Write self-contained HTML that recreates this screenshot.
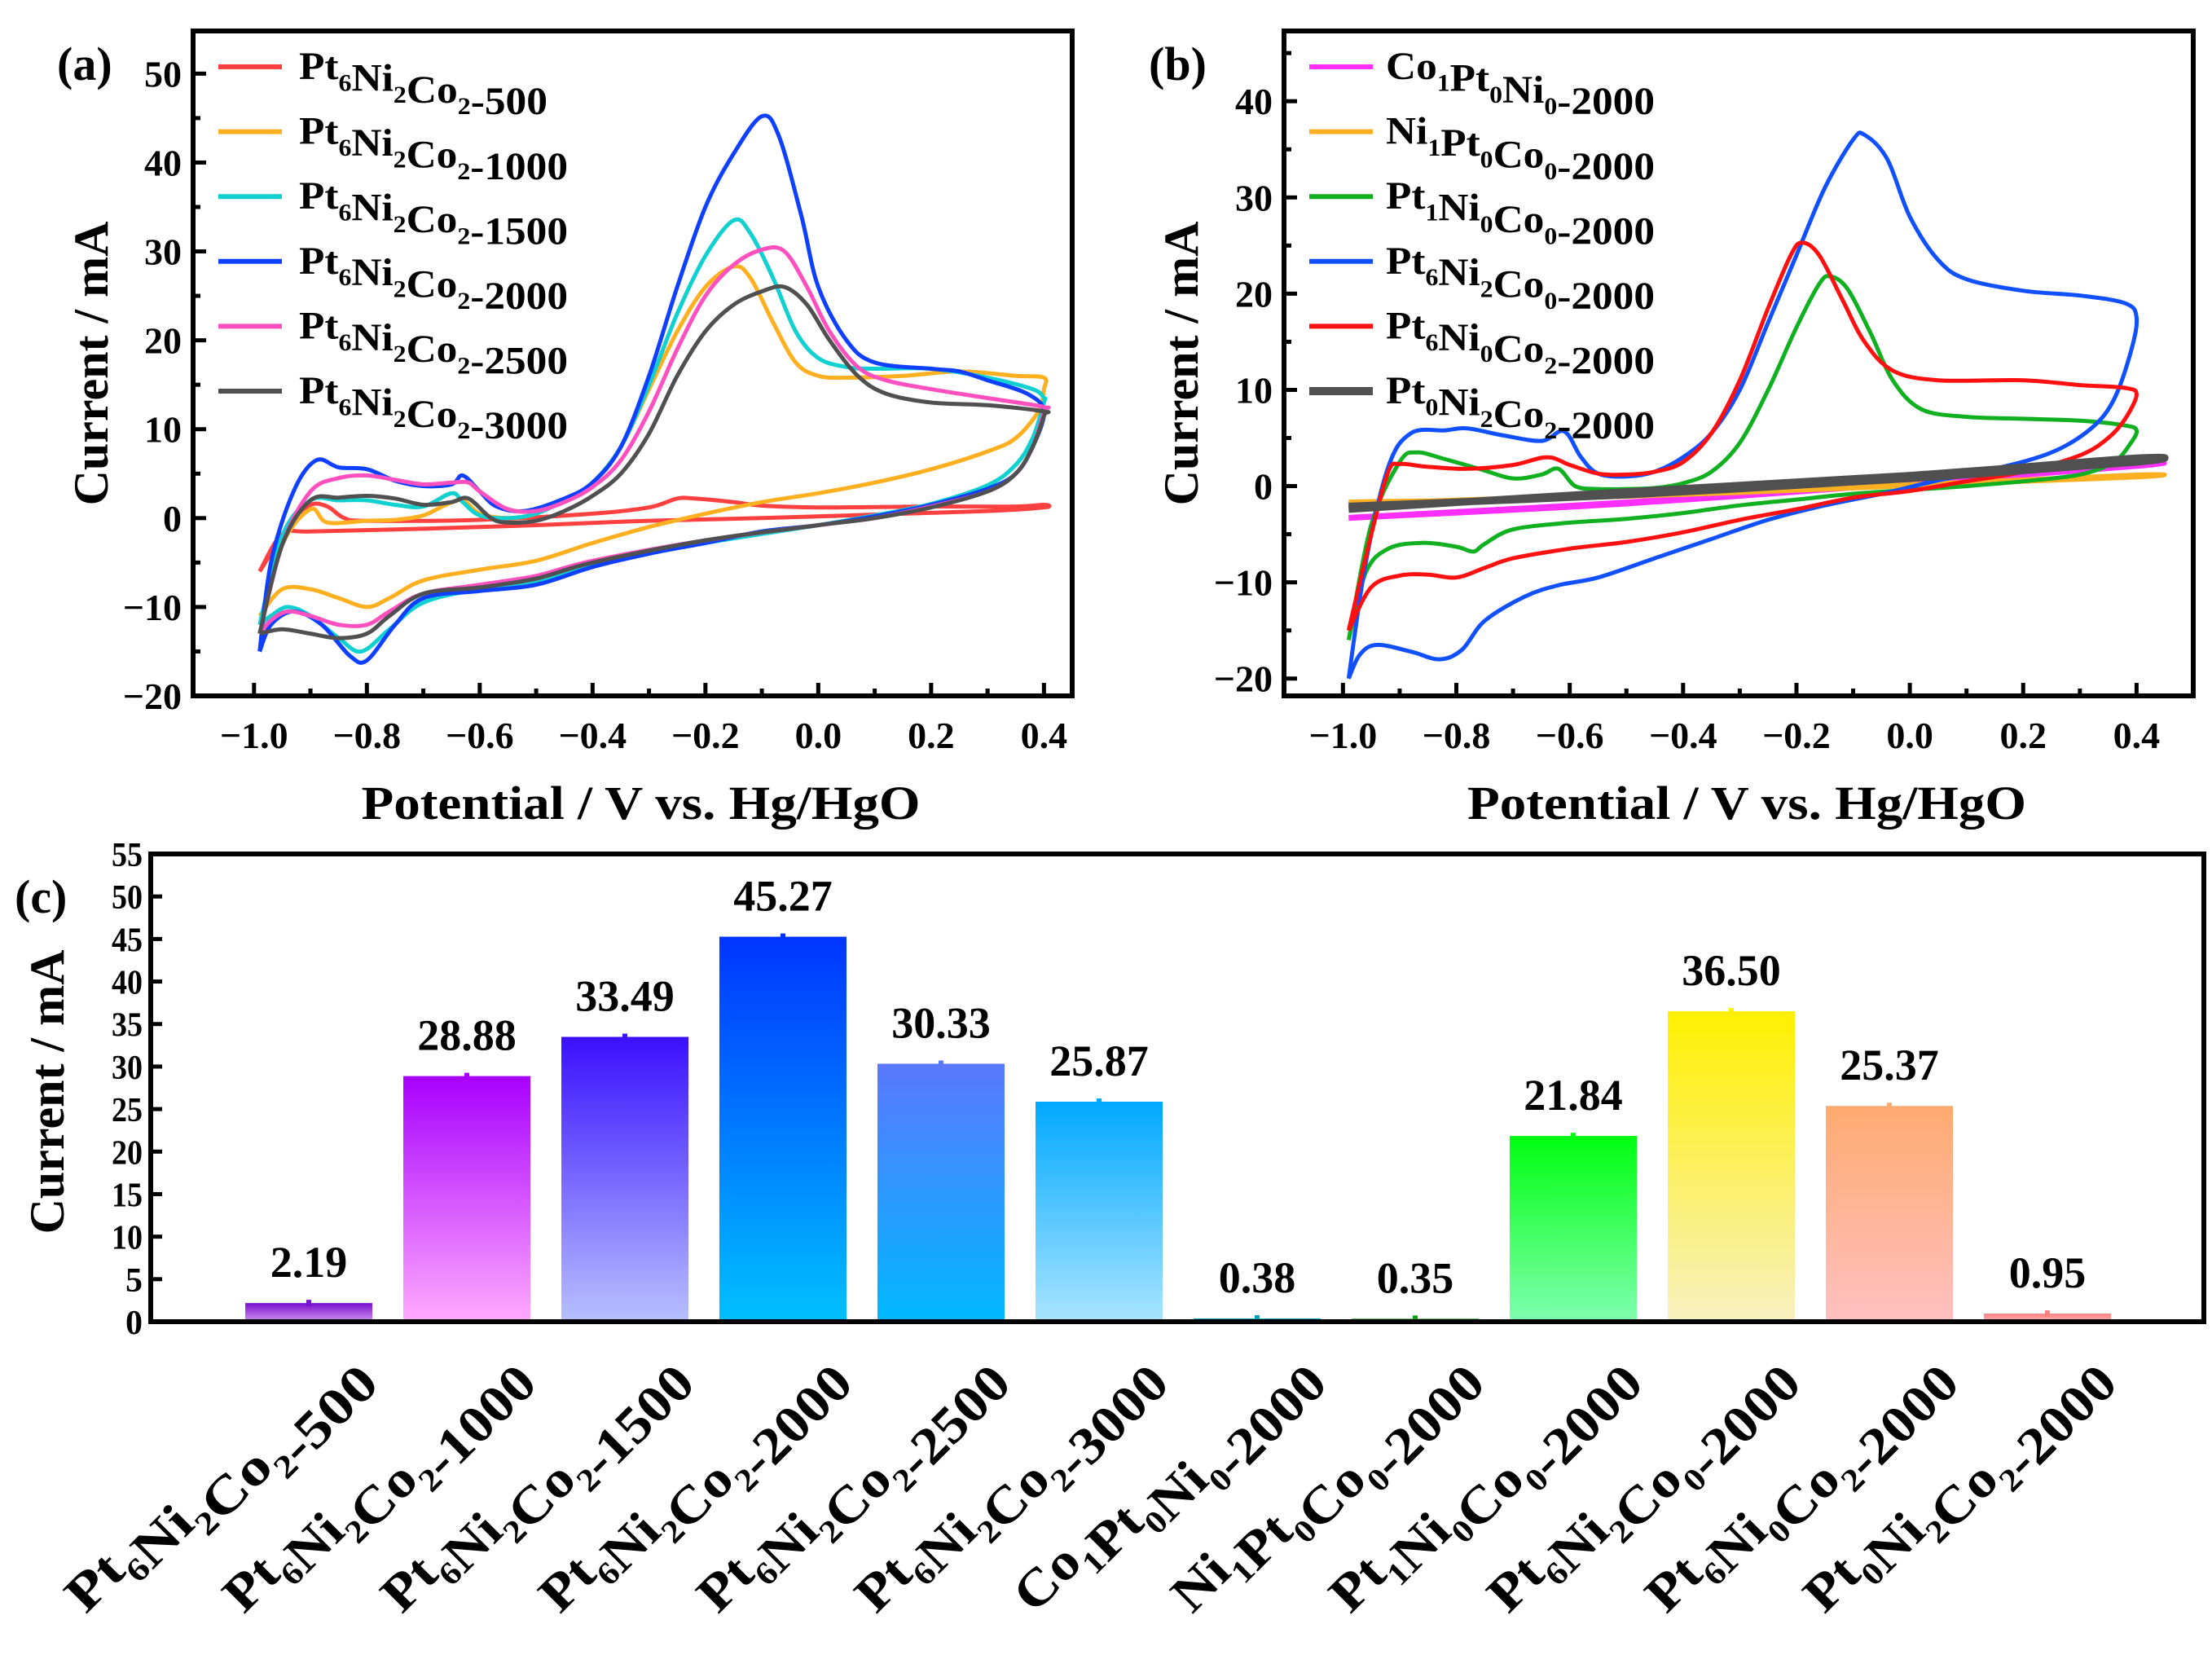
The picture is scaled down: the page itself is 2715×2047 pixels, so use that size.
<!DOCTYPE html>
<html><head><meta charset="utf-8"><style>
html,body{margin:0;padding:0;background:#fff}
svg{display:block}
text{font-family:"Liberation Serif",serif;font-weight:bold;fill:#000}
</style></head><body>
<svg id="fig" width="2715" height="2047" viewBox="0 0 2715 2047" xmlns="http://www.w3.org/2000/svg">
<defs id="defs"></defs>
<g id="root"></g>
</svg>
<script>
// ---------- Panel (a) data ----------
const aNames = ["Pt6Ni2Co2-500","Pt6Ni2Co2-1000","Pt6Ni2Co2-1500","Pt6Ni2Co2-2000","Pt6Ni2Co2-2500","Pt6Ni2Co2-3000"];
const aColors = ["#ff4040","#ffb020","#10d0d0","#1040ff","#ff50c0","#505050"];
const a500 = [[-0.99,-6],[-0.96,-3],[-0.93,-0.5],[-0.9,1.5],[-0.87,1.3],[-0.84,0],[-0.8,-0.3],[-0.6,-0.2],[-0.4,0.5],[-0.3,1.2],[-0.25,2.2],[-0.22,2.2],[-0.15,1.8],[-0.1,1.4],[0,1.2],[0.2,1.3],[0.35,1.3],[0.4,1.5],[0.4,1.2],[0.3,0.8],[0.1,0.4],[-0.1,0],[-0.3,-0.3],[-0.5,-0.8],[-0.7,-1.2],[-0.9,-1.5],[-0.95,-1.8],[-0.99,-6]];
const a1000 = [[-0.99,-12],[-0.95,-3],[-0.9,1],[-0.87,-0.5],[-0.8,-0.3],[-0.75,-0.2],[-0.7,0.3],[-0.66,1.5],[-0.63,2],[-0.6,0.5],[-0.55,0],[-0.5,0.5],[-0.45,2],[-0.4,4],[-0.35,8],[-0.3,14.5],[-0.25,21],[-0.2,26],[-0.15,28.3],[-0.12,27],[-0.08,22],[-0.04,17.5],[0,16],[0.05,15.8],[0.15,16],[0.25,16.5],[0.35,16],[0.4,15.8],[0.4,14.5],[0.39,12],[0.35,9],[0.3,7.5],[0.2,5.5],[0.1,4],[0,2.8],[-0.1,1.8],[-0.2,0.5],[-0.3,-1],[-0.4,-2.8],[-0.5,-4.8],[-0.6,-5.8],[-0.7,-7],[-0.76,-9],[-0.8,-10],[-0.85,-9],[-0.9,-8],[-0.95,-8],[-0.99,-11]];
const a1500 = [[-0.99,-12],[-0.95,-2],[-0.9,2],[-0.85,2],[-0.8,2],[-0.75,1.5],[-0.7,1.3],[-0.65,2.8],[-0.63,1.8],[-0.6,0.3],[-0.55,0],[-0.5,0.5],[-0.45,2],[-0.4,4],[-0.35,8],[-0.3,15],[-0.25,23],[-0.2,29.5],[-0.15,33.5],[-0.12,32],[-0.08,27],[-0.04,21],[0,18],[0.05,17],[0.1,16.8],[0.2,16.8],[0.3,15.8],[0.38,14.5],[0.4,13.5],[0.4,13],[0.38,9],[0.35,6],[0.3,3.7],[0.2,1.6],[0.1,0.3],[0,-0.8],[-0.2,-2.8],[-0.4,-5.2],[-0.5,-7.2],[-0.6,-8],[-0.7,-9.5],[-0.76,-12.5],[-0.81,-15],[-0.85,-13.5],[-0.9,-11],[-0.94,-10],[-0.97,-11],[-0.99,-12]];
const a2000 = [[-0.99,-15],[-0.97,-5],[-0.93,3],[-0.89,6.5],[-0.85,5.7],[-0.8,5.5],[-0.75,4.2],[-0.7,3.6],[-0.65,3.8],[-0.63,4.8],[-0.6,3],[-0.57,1.3],[-0.52,0.8],[-0.45,2.2],[-0.4,4],[-0.35,8],[-0.3,16],[-0.25,26],[-0.2,35],[-0.15,41],[-0.1,45.2],[-0.07,43],[-0.03,34],[0,26],[0.05,20],[0.1,17.5],[0.2,16.8],[0.25,16.5],[0.3,15.5],[0.37,14],[0.4,12],[0.38,8],[0.35,5],[0.3,3.3],[0.2,1.5],[0.1,0.2],[0,-0.8],[-0.1,-1.5],[-0.2,-2.8],[-0.3,-4],[-0.4,-5.5],[-0.5,-7.5],[-0.6,-8.2],[-0.7,-9],[-0.75,-12],[-0.8,-16],[-0.83,-15.5],[-0.88,-12],[-0.93,-10.5],[-0.97,-12],[-0.99,-15]];
const a2500 = [[-0.99,-13],[-0.95,-3],[-0.9,3],[-0.85,4.5],[-0.8,4.8],[-0.75,4.3],[-0.7,3.8],[-0.65,4],[-0.62,4],[-0.6,3],[-0.55,1],[-0.5,0.8],[-0.45,1.8],[-0.4,3.5],[-0.35,6.5],[-0.3,12],[-0.25,19],[-0.2,25],[-0.15,28.5],[-0.1,30.2],[-0.06,30],[-0.02,26],[0.02,21],[0.07,17],[0.12,15.5],[0.2,14.5],[0.3,13.5],[0.4,12.5],[0.4,12],[0.38,8],[0.35,5],[0.3,3],[0.2,1.3],[0.1,0],[0,-0.8],[-0.2,-2.5],[-0.4,-4.8],[-0.5,-6.5],[-0.6,-7.5],[-0.7,-8.5],[-0.76,-10.5],[-0.8,-12],[-0.85,-12],[-0.9,-11],[-0.94,-10.5],[-0.97,-11.5],[-0.99,-13]];
const a3000 = [[-0.99,-13],[-0.95,-3],[-0.9,2],[-0.85,2.3],[-0.8,2.5],[-0.75,2.2],[-0.7,1.5],[-0.65,1.8],[-0.62,2.2],[-0.58,0],[-0.55,-0.5],[-0.5,-0.3],[-0.45,0.8],[-0.4,2.5],[-0.35,5],[-0.3,9.5],[-0.25,16],[-0.2,21],[-0.15,24],[-0.1,25.5],[-0.06,26],[-0.02,24],[0.02,20],[0.07,16],[0.12,14],[0.2,13],[0.3,12.7],[0.4,12],[0.4,11.5],[0.38,8],[0.35,5],[0.3,3],[0.2,1.2],[0.1,0],[0,-0.8],[-0.2,-2.5],[-0.4,-5],[-0.5,-6.8],[-0.6,-7.8],[-0.7,-8.5],[-0.76,-11],[-0.8,-13],[-0.85,-13.5],[-0.9,-13],[-0.95,-12.5],[-0.99,-13]];
const aSeries = [a500,a1000,a1500,a2000,a2500,a3000];

// ---------- Panel (b) data ----------
const bNames = ["Co1Pt0Ni0-2000","Ni1Pt0Co0-2000","Pt1Ni0Co0-2000","Pt6Ni2Co0-2000","Pt6Ni0Co2-2000","Pt0Ni2Co2-2000"];
const bColors = ["#ff30ff","#ffb020","#10b020","#1050ff","#ff1010","#505050"];
const bCo = [[-0.99,-3.2],[-0.5,-1.6],[0,0.5],[0.4,2.3],[0.4,2],[0,0.2],[-0.5,-1.9],[-0.99,-3.4]];
const bNi = [[-0.99,-1.8],[-0.5,-0.8],[0,0.2],[0.4,1.2],[0.4,0.9],[0,0],[-0.5,-1.1],[-0.99,-1.6]];
const bPt1 = [[-0.99,-16],[-0.95,-4],[-0.9,2.5],[-0.87,3.5],[-0.82,2.8],[-0.76,1.8],[-0.7,0.8],[-0.65,1.2],[-0.62,1.8],[-0.59,0],[-0.55,-0.3],[-0.5,-0.3],[-0.45,-0.2],[-0.4,0.3],[-0.35,1.5],[-0.3,4.5],[-0.25,10],[-0.2,16.5],[-0.16,21],[-0.14,21.8],[-0.11,20.5],[-0.07,16],[-0.03,11],[0.02,8],[0.1,7.2],[0.2,7],[0.3,6.8],[0.38,6.3],[0.4,5.8],[0.39,4.5],[0.36,2.5],[0.3,1.2],[0.2,0.5],[0.1,0],[0,-0.4],[-0.1,-0.8],[-0.2,-1.4],[-0.3,-2],[-0.4,-2.8],[-0.5,-3.4],[-0.6,-3.8],[-0.7,-4.5],[-0.75,-6],[-0.77,-6.8],[-0.8,-6.3],[-0.86,-5.9],[-0.92,-6.5],[-0.96,-9],[-0.99,-16]];
const bPt6Ni2 = [[-0.99,-20],[-0.96,-8],[-0.92,2],[-0.88,5.5],[-0.82,5.8],[-0.78,6],[-0.72,5.3],[-0.65,4.7],[-0.61,5.7],[-0.58,3],[-0.55,1.3],[-0.5,1],[-0.45,1.5],[-0.4,3],[-0.35,5.5],[-0.3,10],[-0.25,17],[-0.2,24],[-0.15,31],[-0.1,36],[-0.08,36.5],[-0.04,34],[0,28],[0.05,23.5],[0.1,21.5],[0.2,20.3],[0.3,19.8],[0.38,19],[0.4,17.5],[0.39,14],[0.36,9],[0.32,6],[0.25,3.5],[0.15,1.8],[0.05,0.6],[-0.05,-0.8],[-0.15,-2],[-0.25,-3.5],[-0.35,-5.5],[-0.45,-7.5],[-0.55,-9.5],[-0.62,-10.3],[-0.68,-11.5],[-0.75,-14],[-0.79,-17],[-0.83,-18],[-0.88,-17.2],[-0.94,-16.5],[-0.97,-17.5],[-0.99,-20]];
const bPt6Co2 = [[-0.99,-15],[-0.95,-5],[-0.92,1.5],[-0.9,2.3],[-0.85,2],[-0.78,1.8],[-0.7,2.2],[-0.64,3],[-0.6,2.2],[-0.55,1.3],[-0.5,1.2],[-0.45,1.5],[-0.4,2.5],[-0.35,5.5],[-0.3,11],[-0.25,18.5],[-0.21,24],[-0.19,25.3],[-0.16,24],[-0.12,19.5],[-0.08,15],[-0.03,12],[0.05,11],[0.2,11],[0.3,10.5],[0.38,10.2],[0.4,9.5],[0.38,7],[0.35,5],[0.3,3.2],[0.2,1.5],[0.1,0.5],[0,-0.5],[-0.1,-1.2],[-0.2,-2.4],[-0.3,-3.5],[-0.4,-4.8],[-0.5,-5.8],[-0.6,-6.5],[-0.7,-7.5],[-0.75,-8.5],[-0.8,-9.5],[-0.85,-9.2],[-0.9,-9.3],[-0.95,-10.5],[-0.99,-15]];
const bPt0 = [[-0.99,-2.4],[-0.5,-0.6],[0,1.1],[0.4,2.9],[0.4,2.5],[0,0.8],[-0.5,-0.9],[-0.99,-2.1]];
const bSeries = [bCo,bNi,bPt1,bPt6Ni2,bPt6Co2,bPt0];
const bWidths = [5,5,5,5,5,9];

// ---------- Panel (c) data ----------
const cCategories = ["Pt6Ni2Co2-500","Pt6Ni2Co2-1000","Pt6Ni2Co2-1500","Pt6Ni2Co2-2000","Pt6Ni2Co2-2500","Pt6Ni2Co2-3000","Co1Pt0Ni0-2000","Ni1Pt0Co0-2000","Pt1Ni0Co0-2000","Pt6Ni2Co0-2000","Pt6Ni0Co2-2000","Pt0Ni2Co2-2000"];
const cValues = [2.19,28.88,33.49,45.27,30.33,25.87,0.38,0.35,21.84,36.50,25.37,0.95];
const cLabels = ["2.19","28.88","33.49","45.27","30.33","25.87","0.38","0.35","21.84","36.50","25.37","0.95"];
const cTop = ["#7a10d0","#a800ff","#3a10ff","#0035ff","#5a78ff","#00a8ff","#00a0c0","#10a010","#00ff10","#fff000","#ffaa70","#ff8080"];
const cBot = ["#d090f0","#ffaaff","#b8c0ff","#00c0ff","#00b8ff","#a8e4ff","#80e0f0","#80e080","#80ffb0","#f8f0c0","#ffc0c0","#ffb0b0"];
const cTicks = [0,5,10,15,20,25,30,35,40,45,50,55];

const NS="http://www.w3.org/2000/svg";
const root=document.getElementById('root');
const defs=document.getElementById('defs');
function mk(tag,attrs,parent){const e=document.createElementNS(NS,tag);for(const k in attrs)e.setAttribute(k,attrs[k]);(parent||root).appendChild(e);return e;}
function chem(t,text,fs){
  const m=text.split('-');const formula=m[0];const rest='-'+m[1];
  let parts=formula.match(/[A-Z][a-z]?|\d+/g);
  for(const p of parts){
    if(/\d/.test(p)){const s=document.createElementNS(NS,'tspan');s.setAttribute('dy',fs*0.3);s.setAttribute('font-size',fs*0.62);s.textContent=p;t.appendChild(s);
      const r=document.createElementNS(NS,'tspan');r.setAttribute('dy',-fs*0.3);r.textContent='';t.appendChild(r);}
    else{const s=document.createElementNS(NS,'tspan');s.textContent=p;t.appendChild(s);}
  }
  const s=document.createElementNS(NS,'tspan');s.textContent=rest;t.appendChild(s);
}
function smooth(pts){
  let d='M'+pts[0][0].toFixed(1)+','+pts[0][1].toFixed(1);
  for(let i=0;i<pts.length-1;i++){
    const p0=pts[Math.max(0,i-1)],p1=pts[i],p2=pts[i+1],p3=pts[Math.min(pts.length-1,i+2)];
    const c1=[p1[0]+(p2[0]-p0[0])/6,p1[1]+(p2[1]-p0[1])/6];
    const c2=[p2[0]-(p3[0]-p1[0])/6,p2[1]-(p3[1]-p1[1])/6];
    d+=' C'+c1[0].toFixed(1)+','+c1[1].toFixed(1)+' '+c2[0].toFixed(1)+','+c2[1].toFixed(1)+' '+p2[0].toFixed(1)+','+p2[1].toFixed(1);
  }
  return d;
}

function cvPanel(cfg){
  const g=mk('g',{});
  
  
  const X=v=>cfg.x0+(v-cfg.xmin)/(cfg.xmax-cfg.xmin)*(cfg.x1-cfg.x0);
  const Y=v=>cfg.y1-(v-cfg.ymin)/(cfg.ymax-cfg.ymin)*(cfg.y1-cfg.y0);
  cfg.series.forEach((s,i)=>{
    const p=mk('path',{d:smooth(s.map(q=>[X(q[0]),Y(q[1])])),fill:'none',stroke:cfg.colors[i],'stroke-width':cfg.widths?cfg.widths[i]:5,'stroke-linejoin':'round'},g);
    
    
  });
  const fr=mk('rect',{x:cfg.x0,y:cfg.y0,width:cfg.x1-cfg.x0,height:cfg.y1-cfg.y0,fill:'none',stroke:'#000','stroke-width':6},g);
  
  
  for(let k=-10;k<=4;k++){
    const v=k/10;
    const major=(k%2===0);
    mk('line',{x1:X(v),x2:X(v),y1:cfg.y1,y2:cfg.y1-(major?16:9),stroke:'#000','stroke-width':5},g);
    if(major){const t=mk('text',{x:X(v),y:cfg.y1+64,'text-anchor':'middle','font-size':46},g);
      t.textContent=(k===0?'0.0':(v<0?'\u2212':'')+Math.abs(v).toFixed(1));
      
      }
  }
  for(let v=Math.ceil(cfg.ymin/5)*5;v<=cfg.ymax;v+=5){
    const major=v%10===0;
    mk('line',{x1:cfg.x0,x2:cfg.x0+(major?16:9),y1:Y(v),y2:Y(v),stroke:'#000','stroke-width':5},g);
    if(major){const t=mk('text',{x:cfg.x0-14,y:Y(v)+16,'text-anchor':'end','font-size':46},g);
      t.textContent=(v<0?'\u2212':'')+Math.abs(v);
      
      }
  }
  const xt=mk('text',{x:(cfg.x0+cfg.x1)/2+10,y:1005,'text-anchor':'middle','font-size':58,textLength:686,lengthAdjust:'spacingAndGlyphs'},g);
  xt.textContent='Potential / V vs. Hg/HgO';
  
  
  const yt=mk('text',{x:0,y:0,'text-anchor':'middle','font-size':60,transform:`translate(${cfg.ytx},${(cfg.y0+cfg.y1)/2}) rotate(-90)`},g);
  yt.textContent='Current / mA';
  
  
  const pl=mk('text',{x:cfg.lx,y:98,'font-size':58},g);
  pl.textContent=cfg.label;
  
  
  cfg.names.forEach((n,i)=>{
    const y=82+i*79.6;
    const lg=mk('g',{},g);
    
    
    mk('line',{x1:cfg.legx,x2:cfg.legx+78,y1:y,y2:y,stroke:cfg.colors[i],'stroke-width':cfg.widths?cfg.widths[i]+1:6},lg);
    const t=mk('text',{x:cfg.legx+(cfg.textGap),y:y+15,'font-size':48,textLength:cfg.legLen[i],lengthAdjust:'spacingAndGlyphs'},lg);
    chem(t,n,48);
  });
}
cvPanel({name:'panel-a',label:'(a)',x0:237,x1:1316,y0:38,y1:854,xmin:-1.108,xmax:0.45,ymin:-20,ymax:54.8,series:aSeries,colors:aColors,names:aNames,ytx:132,lx:70,legx:268,textGap:99,legLen:[305,330,330,330,330,330]});
cvPanel({name:'panel-b',label:'(b)',x0:1576,x1:2692,y0:38,y1:854,xmin:-1.104,xmax:0.5,ymin:-21.8,ymax:47.3,series:bSeries,colors:bColors,names:bNames,widths:bWidths,ytx:1470,lx:1410,legx:1607,textGap:94,legLen:[330,330,330,330,330,330]});

// ---------- Panel (c) ----------
(function(){
  const g=mk('g',{});
  
  
  const x0=185,x1=2705,y0=1048,y1=1622,ymax=55;
  const Y=v=>y1-v/ymax*(y1-y0);
  const step=194,first=379,bw=156;
  const X=i=>first+i*step;
  cValues.forEach((v,i)=>{
    const gr=mk('linearGradient',{id:'gr'+i,x1:0,y1:0,x2:0,y2:1},defs);
    mk('stop',{offset:'0','stop-color':cTop[i]},gr);
    mk('stop',{offset:'1','stop-color':cBot[i]},gr);
    const r=mk('rect',{x:X(i)-bw/2,y:Y(v),width:bw,height:Math.max(2,y1-Y(v)),fill:`url(#gr${i})`},g);
    
    
    mk('line',{x1:X(i),x2:X(i),y1:Y(v)-4,y2:Y(v)+4,stroke:cTop[i],'stroke-width':6},g);
    const t=mk('text',{x:X(i),y:Y(v)-32,'text-anchor':'middle','font-size':54},g);
    t.textContent=cLabels[i];
    
    
    const c=mk('text',{x:0,y:0,'text-anchor':'end','font-size':64,textLength:455,lengthAdjust:'spacingAndGlyphs',transform:`translate(${X(i)+48},${1660}) rotate(-45)`},g);
    chem(c,cCategories[i],64);
    
    
  });
  const fr=mk('rect',{x:x0,y:y0,width:x1-x0,height:y1-y0,fill:'none',stroke:'#000','stroke-width':6},g);
  
  
  cTicks.forEach(v=>{
    mk('line',{x1:x0,x2:x0+14,y1:Y(v),y2:Y(v),stroke:'#000','stroke-width':5},g);
    const t=mk('text',{x:x0-10,y:Y(v)+15,'text-anchor':'end','font-size':42,textLength:v<10?21:38,lengthAdjust:'spacingAndGlyphs'},g);
    t.textContent=String(v);
    
    
  });
  const yt=mk('text',{x:0,y:0,'text-anchor':'middle','font-size':60,transform:`translate(78,${(y0+y1)/2+5}) rotate(-90)`},g);
  yt.textContent='Current / mA';
  
  
  const pl=mk('text',{x:18,y:1120,'font-size':58},g);
  pl.textContent='(c)';
  
  
})();
</script>
</body></html>
